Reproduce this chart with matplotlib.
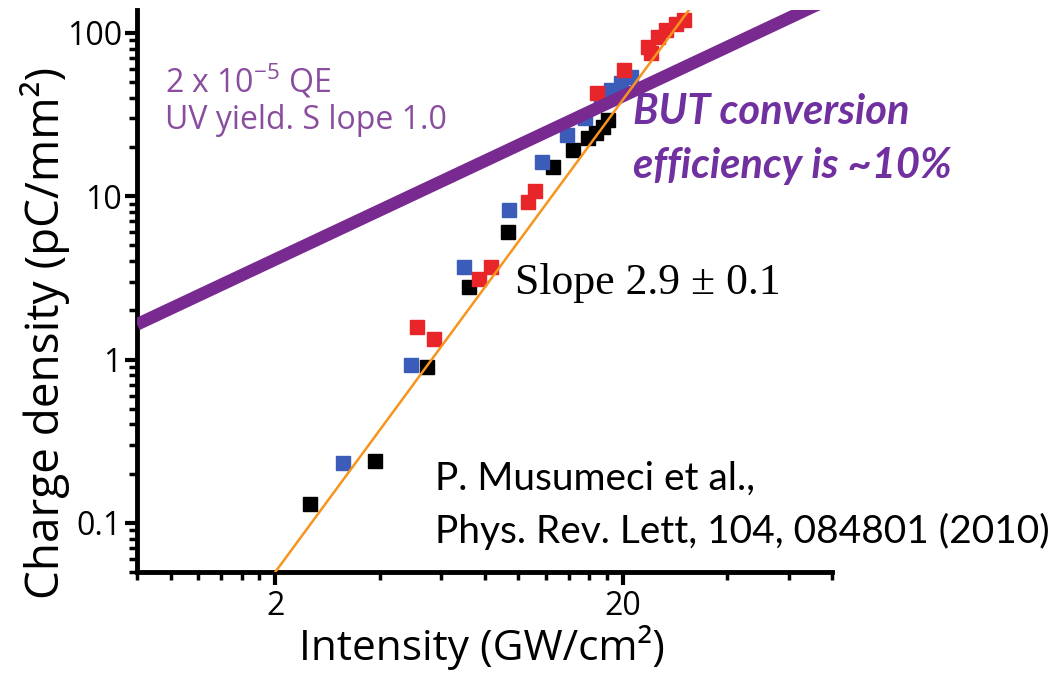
import numpy as np
import matplotlib
matplotlib.use('Agg')
import matplotlib.pyplot as plt
from matplotlib.ticker import LogLocator, NullFormatter, FixedLocator, FixedFormatter

plt.rcParams['mathtext.fontset'] = 'custom'
plt.rcParams['mathtext.rm'] = 'Open Sans'
plt.rcParams['mathtext.it'] = 'Open Sans:italic'

# measured charge density vs intensity, three data sets
x_black = [2.52, 3.86, 5.48, 7.20, 9.33, 12.6, 14.4, 15.9, 16.7, 17.6, 18.1]
y_black = [0.130, 0.238, 0.906, 2.76, 6.06, 15.1, 19.2, 22.8, 24.5, 26.6, 29.4]
x_blue = [3.14, 4.90, 6.97, 9.38, 11.7, 13.8, 15.6, 17.3, 18.5, 19.7, 21.1]
y_blue = [0.234, 0.93, 3.71, 8.27, 16.3, 23.8, 30.2, 40.6, 44.8, 49.4, 53.8]
x_red = [5.13, 5.74, 7.69, 8.33, 10.7, 11.2, 16.9, 20.1, 23.6, 24.1, 25.2, 26.6, 28.4, 30.0]
y_red = [1.59, 1.33, 3.09, 3.71, 9.26, 10.7, 43.0, 59.4, 82.1, 75.5, 94.6, 104, 113, 120]

# slope 2.9 fit and slope 1.0 UV yield line (end points)
fit_x = [2.0, 31.0]
fit_y = [0.05, 138]
uv_x = [0.8, 80]
uv_y = [1.64, 164]

yticks = [0.1, 1, 10, 100]
ytick_labels = ['0.1', '1', '10', '100']

W, H = 1059, 675
fig = plt.figure(figsize=(W / 100, H / 100), dpi=100)
ax = fig.add_axes([137 / W, 1 - 572 / H, (832 - 137) / W, (572 - 10) / H])

ax.plot(x_black, y_black, 's', color='black', ms=10.5, zorder=3)
ax.plot(x_blue, y_blue, 's', color='#3b5cb8', ms=10.5, zorder=3)
ax.plot(x_red, y_red, 's', color='#e8262a', ms=10.5, zorder=3)
ax.plot(uv_x, uv_y, color='#782a91', lw=9, solid_capstyle='butt', zorder=4)
ax.plot(fit_x, fit_y, color='#f7941d', lw=1.8, zorder=5)

ax.set_xscale('log')
ax.set_yscale('log')
ax.set_xlim(0.8, 80)
ax.set_ylim(0.05, 138)

for s in ['top', 'right']:
    ax.spines[s].set_visible(False)
for s in ['left', 'bottom']:
    ax.spines[s].set_linewidth(3.5)

ax.xaxis.set_major_locator(FixedLocator([2, 20]))
ax.xaxis.set_major_formatter(FixedFormatter(['2', '20']))
ax.xaxis.set_minor_locator(LogLocator(base=10, subs=[1, 1.2, 1.4, 1.6, 1.8, 4, 6, 8], numticks=50))
ax.xaxis.set_minor_formatter(NullFormatter())
ax.yaxis.set_major_locator(FixedLocator(yticks))
ax.yaxis.set_major_formatter(FixedFormatter(ytick_labels))
ax.yaxis.set_minor_locator(LogLocator(base=10, subs=np.arange(2, 10), numticks=50))
ax.yaxis.set_minor_formatter(NullFormatter())

ax.tick_params(which='major', length=9, width=3, direction='out')
ax.tick_params(which='minor', length=6, width=2.5, direction='out')
ax.tick_params(axis='y', labelsize=23, pad=2)
ax.tick_params(axis='x', labelsize=23, pad=4)
for lab in ax.get_xticklabels() + ax.get_yticklabels():
    lab.set_fontfamily('Open Sans')

def px(x, y):
    return x / W, 1 - y / H

fig.text(*px(45, 333), 'Charge density (pC/mm²)', rotation=90, ha='center', va='center',
         fontsize=33, family='Open Sans')
fig.text(*px(482, 648), 'Intensity (GW/cm²)', ha='center', va='center',
         fontsize=30.5, family='Open Sans')

purple_light = '#8a4c9e'
fig.text(*px(165, 93), r'2 x 10$^{\mathregular{-5}}$ QE', ha='left', va='baseline',
         fontsize=23, color=purple_light, family='Open Sans')
fig.text(*px(165, 129), 'UV yield. S lope 1.0', ha='left', va='baseline',
         fontsize=23, color=purple_light, family='Open Sans')

fig.text(*px(515, 294), 'Slope 2.9 ± 0.1', ha='left', va='baseline',
         fontsize=31.5, color='black', family='Liberation Serif')

fig.text(*px(633, 124), 'BUT conversion', ha='left', va='baseline', fontsize=30,
         color='#7030a0', family='Lato', weight='bold', style='italic')
fig.text(*px(633, 178), 'efficiency is ~10%', ha='left', va='baseline', fontsize=30,
         color='#7030a0', family='Lato', weight='bold', style='italic')

fig.text(*px(435, 490), 'P. Musumeci et al.,', ha='left', va='baseline', fontsize=28,
         color='black', family='Lato')
fig.text(*px(435, 543), 'Phys. Rev. Lett, 104, 084801 (2010)', ha='left', va='baseline',
         fontsize=28, color='black', family='Lato')

fig.savefig('out.png', dpi=100)
